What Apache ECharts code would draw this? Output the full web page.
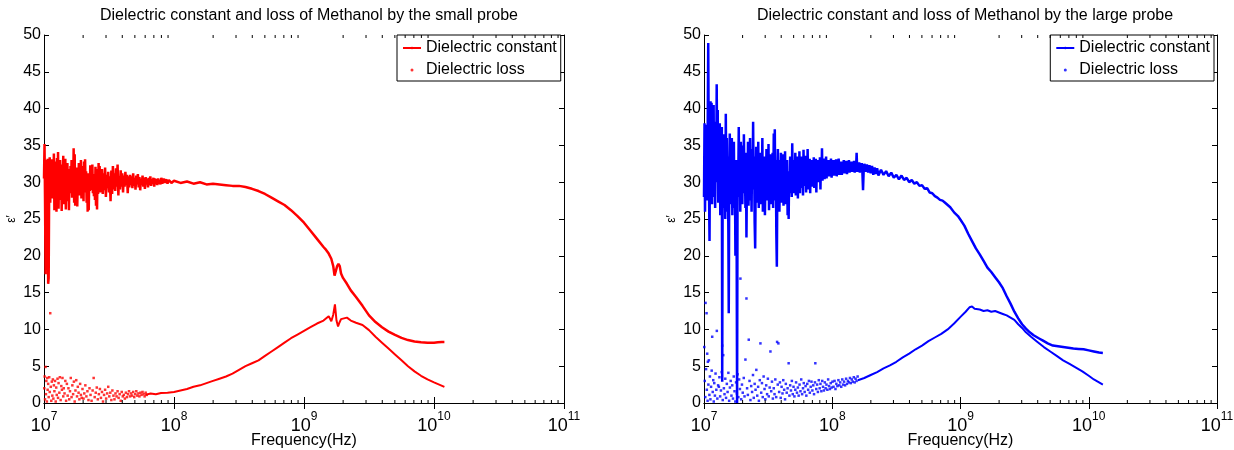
<!DOCTYPE html>
<html><head><meta charset="utf-8">
<script src="https://cdn.jsdelivr.net/npm/echarts@6/dist/echarts.min.js"></script>
<style>html,body{margin:0;padding:0;background:#fff}#c{width:1234px;height:450px}</style>
</head><body><div id="c"></div>
<script>
// x values are log10(frequency / Hz); y values are epsilon
const titles = ['Dielectric constant and loss of Methanol by the small probe',
                'Dielectric constant and loss of Methanol by the large probe'];
const legendNames = ['Dielectric constant', 'Dielectric loss'];
const xName = 'Frequency(Hz)';
const yName = 'ε′';
const yTicks = [0, 5, 10, 15, 20, 25, 30, 35, 40, 45, 50];
const xMajorTicks = [1e7, 1e8, 1e9, 1e10, 1e11];
const xMinorTicks = [2e7,3e7,4e7,5e7,6e7,7e7,8e7,9e7,2e8,3e8,4e8,5e8,6e8,7e8,8e8,9e8,
  2e9,3e9,4e9,5e9,6e9,7e9,8e9,9e9,2e10,3e10,4e10,5e10,6e10,7e10,8e10,9e10];

const smallConstant = [
[7.000,30.5],[7.004,35.2],[7.008,27.5],[7.012,17.5],[7.016,31.5],[7.020,33.0],[7.024,26.8],[7.028,33.2],[7.032,16.2],[7.036,17.0],
[7.040,30.2],[7.044,33.4],[7.048,27.2],[7.052,32.6],[7.056,29.0],[7.060,33.1],[7.064,27.8],[7.068,32.2],[7.072,28.6],[7.076,33.9],
[7.080,26.2],[7.084,31.4],[7.088,27.3],[7.092,32.8],[7.096,26.0],[7.100,33.3],[7.104,28.4],[7.108,34.1],[7.112,26.4],[7.116,31.2],
[7.120,27.6],[7.124,33.0],[7.128,29.1],[7.132,31.8],[7.136,26.1],[7.140,32.4],[7.144,28.2],[7.148,33.6],[7.152,27.0],[7.156,30.8],
[7.160,28.8],[7.164,33.2],[7.168,26.3],[7.172,31.9],[7.176,28.0],[7.180,32.6],[7.184,27.4],[7.188,30.6],[7.192,26.2],[7.196,31.8],
[7.200,28.5],[7.204,32.2],[7.208,29.0],[7.212,33.0],[7.216,27.9],[7.220,32.4],[7.224,28.4],[7.228,34.6],[7.232,27.2],[7.236,33.8],
[7.240,26.8],[7.244,31.0],[7.248,28.6],[7.252,32.0],[7.256,26.7],[7.260,30.8],[7.264,28.9],[7.268,32.6],[7.272,28.2],[7.276,31.4],
[7.280,29.2],[7.284,33.0],[7.288,27.8],[7.292,32.2],[7.296,28.8],[7.300,31.6],[7.304,27.4],[7.308,32.8],[7.312,28.6],[7.316,33.1],
[7.320,29.0],[7.324,31.5],[7.328,27.2],[7.332,30.6],[7.336,26.0],[7.340,31.2],[7.344,26.2],[7.348,30.4],[7.352,28.8],[7.356,32.3],
[7.360,28.9],[7.364,31.0],[7.368,29.4],[7.372,32.4],[7.376,28.5],[7.380,31.1],[7.384,28.1],[7.388,30.9],[7.392,27.6],[7.396,32.1],
[7.400,26.8],[7.404,30.5],[7.408,26.3],[7.412,31.8],[7.416,28.4],[7.420,32.6],[7.424,29.2],[7.428,32.2],[7.432,28.6],[7.436,31.4],
[7.440,29.0],[7.446,31.8],[7.452,28.4],[7.458,31.2],[7.464,28.9],[7.470,32.0],[7.476,28.0],[7.482,31.0],[7.488,29.2],[7.494,31.4],
[7.500,28.6],[7.506,30.8],[7.512,27.4],[7.518,31.6],[7.524,28.4],[7.530,32.2],[7.536,29.0],[7.542,31.2],[7.548,28.8],[7.554,31.9],
[7.560,29.4],[7.566,32.4],[7.572,28.2],[7.578,30.8],[7.584,29.0],[7.590,31.6],[7.596,29.4],[7.602,31.2],[7.608,28.6],[7.614,30.9],
[7.620,29.4],[7.626,31.4],[7.632,29.6],[7.638,31.0],[7.644,28.5],[7.650,30.8],[7.656,29.3],[7.662,31.0],[7.668,29.6],[7.674,30.8],
[7.680,29.2],[7.686,31.2],[7.692,29.5],[7.698,30.6],[7.704,29.0],[7.710,30.9],[7.716,29.7],[7.722,31.1],[7.728,29.3],[7.734,30.7],
[7.740,28.9],[7.746,30.5],[7.752,29.6],[7.758,30.9],[7.764,29.4],[7.770,30.6],[7.776,29.1],[7.782,30.7],[7.788,29.7],[7.794,30.5],
[7.800,29.3],[7.806,30.6],[7.812,29.6],[7.818,30.8],[7.824,29.5],[7.830,30.4],[7.836,29.8],[7.842,30.6],[7.848,29.4],[7.854,30.5],
[7.860,29.7],[7.866,30.4],[7.872,29.6],[7.878,30.5],[7.884,29.8],[7.890,30.3],[7.896,29.7],[7.902,30.6],[7.910,29.8],[7.920,30.5],
[7.930,29.9],[7.940,30.4],[7.950,29.8],[7.960,30.3],[7.980,29.9],[8.000,30.2],[8.050,29.9],[8.100,30.1],[8.150,29.8],[8.200,30.0],
[8.250,29.7],[8.300,29.8],[8.350,29.7],[8.400,29.6],[8.450,29.5],[8.500,29.5],[8.550,29.35],[8.600,29.1],[8.650,28.8],[8.700,28.4],
[8.750,27.9],[8.800,27.4],[8.850,26.9],[8.900,26.2],[8.950,25.4],[9.000,24.5],[9.050,23.4],[9.100,22.3],[9.150,21.2],[9.170,20.8],
[9.190,20.3],[9.210,19.6],[9.225,18.6],[9.235,17.3],[9.245,17.5],[9.255,18.6],[9.265,18.9],[9.275,18.6],[9.285,17.6],[9.300,17.0],
[9.330,16.2],[9.360,15.3],[9.400,14.4],[9.450,13.2],[9.500,11.9],[9.550,11.0],[9.600,10.3],[9.650,9.7],[9.700,9.25],[9.750,8.85],
[9.800,8.55],[9.850,8.35],[9.900,8.25],[9.950,8.2],[10.000,8.2],[10.030,8.25],[10.060,8.3],[10.080,8.3]];

const smallLossScatter = [
[7.002,2.0],[7.005,3.6],[7.008,0.5],[7.012,4.9],[7.015,1.2],[7.018,3.0],[7.022,0.2],[7.025,3.4],[7.028,1.8],[7.032,2.6],
[7.036,0.8],[7.040,3.5],[7.044,1.5],[7.048,12.2],[7.052,2.2],[7.056,0.3],[7.060,2.9],[7.064,1.0],[7.068,3.2],[7.072,0.6],
[7.076,2.4],[7.080,1.6],[7.085,3.0],[7.090,0.2],[7.094,2.1],[7.098,1.1],[7.104,3.3],[7.108,0.7],[7.112,2.7],[7.118,1.4],
[7.122,3.5],[7.128,0.4],[7.133,2.3],[7.138,1.8],[7.142,3.4],[7.148,0.9],[7.152,2.0],[7.158,1.3],[7.164,3.0],[7.170,0.3],
[7.176,2.6],[7.182,1.0],[7.188,2.0],[7.194,0.5],[7.200,1.6],[7.206,3.4],[7.212,0.8],[7.218,2.4],[7.224,1.2],[7.230,2.9],
[7.236,0.2],[7.242,1.7],[7.248,3.1],[7.254,0.9],[7.260,2.2],[7.266,1.4],[7.272,0.5],[7.278,2.6],[7.284,1.1],[7.290,0.7],
[7.296,1.9],[7.304,0.6],[7.310,1.3],[7.318,2.4],[7.326,0.9],[7.334,1.6],[7.342,0.4],[7.350,2.0],[7.358,1.1],[7.366,0.3],
[7.374,1.7],[7.382,3.4],[7.390,0.8],[7.398,1.4],[7.406,2.1],[7.414,0.5],[7.422,1.2],[7.430,1.9],[7.438,0.7],[7.446,1.5],
[7.454,0.2],[7.462,1.1],[7.470,1.8],[7.478,0.6],[7.486,1.3],[7.494,2.2],[7.502,0.9],[7.510,1.4],[7.518,0.4],[7.526,1.7],
[7.534,1.0],[7.542,0.5],[7.550,1.3],[7.558,0.9],[7.566,1.6],[7.574,0.7],[7.582,1.2],[7.590,0.3],[7.598,1.5],[7.606,0.9],
[7.614,1.1],[7.622,0.6],[7.630,1.4],[7.638,0.8],[7.646,1.2],[7.654,1.6],[7.662,0.9],[7.670,1.3],[7.678,1.0],[7.686,1.5],
[7.694,0.8],[7.702,1.2],[7.710,1.6],[7.718,1.0],[7.726,1.3],[7.734,0.9],[7.742,1.4],[7.750,1.1],[7.758,1.5],[7.766,1.2],
[7.774,0.9],[7.782,1.4],[7.790,1.1]];

const smallLossCurve = [
[7.780,1.1],[7.820,1.3],[7.860,1.2],[7.900,1.35],[7.950,1.4],[8.000,1.5],[8.050,1.7],[8.100,1.9],[8.150,2.2],[8.200,2.4],
[8.250,2.7],[8.300,3.0],[8.350,3.3],[8.400,3.6],[8.450,4.0],[8.500,4.5],[8.550,5.0],[8.600,5.4],[8.650,5.8],[8.700,6.4],
[8.750,7.0],[8.800,7.6],[8.850,8.2],[8.900,8.8],[8.950,9.3],[9.000,9.8],[9.050,10.3],[9.100,10.8],[9.150,11.2],[9.190,11.8],
[9.210,11.1],[9.225,12.0],[9.238,13.4],[9.250,11.2],[9.262,10.4],[9.272,10.9],[9.285,11.4],[9.300,11.6],[9.330,11.6],[9.360,11.2],
[9.400,10.9],[9.450,10.6],[9.500,9.9],[9.550,9.0],[9.600,8.2],[9.650,7.4],[9.700,6.6],[9.750,5.8],[9.800,5.0],[9.850,4.3],
[9.900,3.7],[9.950,3.2],[10.000,2.8],[10.040,2.5],[10.080,2.2]];

const largeConstant = [
[7.000,28.0],[7.004,38.0],[7.008,26.0],[7.012,36.5],[7.016,30.0],[7.020,37.8],[7.024,27.5],[7.028,35.0],[7.033,48.9],[7.038,31.0],
[7.043,22.0],[7.047,36.0],[7.051,41.0],[7.055,30.5],[7.059,40.8],[7.063,27.0],[7.067,39.5],[7.071,33.0],[7.075,40.5],[7.079,28.0],
[7.083,38.2],[7.087,26.5],[7.091,37.0],[7.095,30.0],[7.099,43.3],[7.103,32.0],[7.107,39.8],[7.111,27.2],[7.115,36.5],[7.119,29.0],
[7.123,38.0],[7.127,25.5],[7.131,35.2],[7.135,28.5],[7.139,37.5],[7.142,2.9],[7.146,34.0],[7.150,26.5],[7.154,36.5],[7.158,29.5],
[7.162,34.8],[7.166,25.0],[7.170,39.3],[7.174,28.0],[7.178,36.0],[7.182,26.0],[7.186,33.5],[7.190,23.0],[7.193,12.2],[7.197,30.5],
[7.201,36.6],[7.205,27.0],[7.209,34.5],[7.213,29.0],[7.217,36.0],[7.221,25.5],[7.225,33.0],[7.229,28.0],[7.233,35.5],[7.237,26.5],
[7.241,31.5],[7.245,20.0],[7.250,33.0],[7.254,26.0],[7.258,0.0],[7.262,32.0],[7.266,28.0],[7.271,37.5],[7.275,29.0],[7.279,34.0],
[7.283,26.0],[7.287,35.5],[7.291,30.0],[7.295,33.5],[7.299,27.0],[7.303,35.0],[7.307,28.5],[7.311,36.5],[7.315,30.5],[7.319,33.0],
[7.323,26.5],[7.327,34.0],[7.331,22.5],[7.335,31.0],[7.339,28.0],[7.343,35.5],[7.347,26.8],[7.351,33.2],[7.355,29.5],[7.359,36.0],
[7.363,27.5],[7.367,32.0],[7.371,26.0],[7.375,34.5],[7.379,30.0],[7.383,38.2],[7.387,29.0],[7.391,33.5],[7.395,24.5],[7.399,21.0],
[7.403,30.0],[7.407,34.8],[7.411,27.2],[7.415,32.5],[7.419,29.0],[7.423,35.5],[7.427,26.5],[7.431,31.5],[7.435,28.5],[7.439,34.0],
[7.443,27.0],[7.447,32.5],[7.451,29.5],[7.455,36.0],[7.459,26.0],[7.463,31.8],[7.467,28.2],[7.471,33.5],[7.475,25.5],[7.479,30.5],
[7.483,29.0],[7.487,34.5],[7.491,27.5],[7.495,32.0],[7.499,28.8],[7.503,35.2],[7.507,26.2],[7.511,31.0],[7.515,29.8],[7.519,33.8],
[7.523,27.0],[7.527,32.5],[7.531,28.0],[7.535,34.0],[7.539,26.5],[7.544,36.6],[7.548,29.0],[7.552,37.2],[7.556,27.5],[7.560,33.0],
[7.564,23.0],[7.568,18.5],[7.572,30.5],[7.576,34.5],[7.580,28.5],[7.584,33.0],[7.588,26.0],[7.592,31.5],[7.596,29.0],[7.600,34.0],
[7.604,27.2],[7.608,32.2],[7.612,28.5],[7.616,33.8],[7.620,26.8],[7.624,31.5],[7.628,29.5],[7.632,34.2],[7.636,27.0],[7.640,31.0],
[7.644,28.8],[7.648,33.0],[7.652,25.5],[7.656,30.5],[7.660,25.0],[7.664,31.5],[7.668,28.5],[7.672,33.5],[7.676,29.0],[7.680,32.0],
[7.684,28.0],[7.688,35.3],[7.692,29.5],[7.696,32.5],[7.700,28.5],[7.704,33.0],[7.708,30.0],[7.712,34.0],[7.716,28.2],[7.720,32.0],
[7.724,29.5],[7.728,33.5],[7.732,27.8],[7.736,31.5],[7.740,29.0],[7.744,34.2],[7.748,28.5],[7.752,32.5],[7.756,30.0],[7.760,33.5],
[7.764,29.2],[7.768,31.8],[7.772,28.2],[7.776,34.4],[7.780,29.5],[7.784,32.2],[7.788,30.2],[7.792,33.6],[7.796,28.6],[7.800,32.0],
[7.804,29.8],[7.808,34.5],[7.812,29.0],[7.816,31.8],[7.820,30.4],[7.824,33.2],[7.828,28.5],[7.832,32.4],[7.836,30.5],[7.840,33.0],
[7.844,29.4],[7.848,32.6],[7.852,30.8],[7.856,33.4],[7.860,29.2],[7.864,32.0],[7.868,30.6],[7.872,33.2],[7.876,28.6],[7.880,32.2],
[7.884,30.8],[7.888,33.0],[7.892,30.0],[7.896,32.5],[7.900,30.6],[7.904,33.4],[7.908,29.0],[7.912,32.8],[7.916,30.8],[7.920,34.6],
[7.924,30.2],[7.928,32.6],[7.932,31.0],[7.936,33.2],[7.940,30.4],[7.944,32.8],[7.948,31.0],[7.952,33.5],[7.956,30.5],[7.960,32.6],
[7.965,31.2],[7.970,33.0],[7.975,30.8],[7.980,32.4],[7.985,31.0],[7.990,33.2],[7.995,30.6],[8.000,32.8],[8.005,31.2],[8.010,33.0],
[8.015,30.9],[8.020,32.6],[8.025,31.3],[8.030,33.1],[8.035,30.8],[8.040,32.4],[8.045,31.4],[8.050,33.2],[8.055,31.0],[8.060,32.5],
[8.065,31.2],[8.070,32.8],[8.075,31.0],[8.080,32.6],[8.085,31.4],[8.090,33.0],[8.095,31.2],[8.100,32.4],[8.105,31.5],[8.110,32.9],
[8.115,31.1],[8.120,32.6],[8.125,31.6],[8.130,33.0],[8.135,31.3],[8.140,32.5],[8.145,31.5],[8.150,32.8],[8.155,31.4],[8.160,32.6],
[8.165,31.6],[8.170,32.9],[8.175,31.3],[8.180,32.4],[8.185,31.5],[8.190,34.0],[8.195,31.4],[8.200,32.5],[8.205,31.6],[8.210,32.7],
[8.215,31.3],[8.220,32.4],[8.225,31.5],[8.230,32.6],[8.235,31.4],[8.240,28.9],[8.245,31.6],[8.250,32.5],[8.260,31.4],[8.270,32.4],
[8.280,31.3],[8.290,32.3],[8.300,31.2],[8.310,32.2],[8.320,31.0],[8.330,32.0],[8.340,31.1],[8.350,31.9],[8.360,30.9],[8.380,31.7],
[8.400,31.0],[8.420,31.5],[8.440,30.8],[8.460,31.3],[8.480,30.6],[8.500,31.0],[8.520,30.4],[8.540,30.9],[8.560,30.3],[8.580,30.6],
[8.600,30.0],[8.620,30.3],[8.640,29.8],[8.660,30.0],[8.680,29.5],[8.700,29.6],[8.720,29.1],[8.740,29.2],[8.760,28.6],[8.780,28.5],
[8.800,28.1],[8.820,27.9],[8.840,27.6],[8.860,27.5],[8.880,27.2],[8.900,26.9],[8.920,26.6],[8.950,25.9],[8.980,25.4],[9.000,24.9],
[9.030,24.1],[9.060,23.0],[9.090,22.0],[9.120,21.0],[9.150,20.2],[9.180,19.3],[9.210,18.4],[9.240,17.8],[9.270,17.1],[9.300,16.4],
[9.330,15.6],[9.360,14.5],[9.390,13.5],[9.420,12.4],[9.450,11.5],[9.480,10.7],[9.510,10.1],[9.540,9.6],[9.570,9.2],[9.600,8.9],
[9.620,8.7],[9.640,8.5],[9.680,8.1],[9.720,7.8],[9.760,7.7],[9.800,7.6],[9.840,7.5],[9.880,7.4],[9.920,7.35],[9.960,7.3],
[10.000,7.15],[10.040,7.0],[10.080,6.85],[10.110,6.8]];

const largeLossScatter = [
[7.002,7.6],[7.006,3.0],[7.010,0.8],[7.012,13.6],[7.016,4.6],[7.020,12.2],[7.022,1.8],[7.025,6.7],[7.028,0.3],[7.030,5.6],
[7.034,2.5],[7.038,5.8],[7.042,1.1],[7.046,3.6],[7.050,0.5],[7.055,2.2],[7.060,4.4],[7.064,9.0],[7.068,1.5],[7.072,3.1],
[7.076,0.2],[7.080,2.7],[7.085,1.0],[7.090,4.0],[7.096,1.8],[7.100,9.8],[7.104,0.6],[7.110,2.4],[7.116,2.2],[7.120,3.5],
[7.126,0.9],[7.132,1.7],[7.138,4.2],[7.142,7.8],[7.146,0.4],[7.150,6.5],[7.155,2.0],[7.160,1.2],[7.166,3.3],[7.172,0.7],
[7.178,2.6],[7.184,1.5],[7.190,4.1],[7.196,0.3],[7.202,2.1],[7.208,3.0],[7.214,1.0],[7.220,2.4],[7.226,0.6],[7.232,3.6],
[7.238,1.6],[7.244,0.2],[7.250,2.8],[7.256,1.3],[7.262,3.9],[7.268,0.8],[7.274,3.2],[7.280,1.9],[7.284,16.9],[7.290,0.5],
[7.296,2.5],[7.302,1.4],[7.310,3.4],[7.316,0.9],[7.323,5.9],[7.331,14.2],[7.336,2.0],[7.342,1.1],[7.349,8.6],[7.355,3.0],
[7.362,0.4],[7.368,2.3],[7.375,1.5],[7.382,3.8],[7.388,0.7],[7.395,2.6],[7.402,1.8],[7.408,4.5],[7.415,1.0],[7.422,2.2],
[7.428,0.3],[7.435,3.1],[7.440,8.1],[7.446,1.4],[7.452,2.7],[7.458,0.8],[7.465,3.6],[7.472,1.9],[7.478,0.5],[7.485,2.4],
[7.492,1.2],[7.498,3.3],[7.505,0.9],[7.512,2.1],[7.518,7.0],[7.524,1.6],[7.530,2.9],[7.537,0.6],[7.544,2.0],[7.550,1.2],
[7.556,3.2],[7.563,0.8],[7.570,8.3],[7.575,2.5],[7.580,8.1],[7.586,1.5],[7.592,2.8],[7.598,0.7],[7.605,2.2],[7.612,1.3],
[7.618,3.1],[7.625,1.8],[7.632,0.5],[7.638,2.6],[7.645,1.4],[7.652,2.0],[7.660,5.4],[7.666,1.0],[7.672,2.4],[7.678,1.7],
[7.685,3.0],[7.692,1.2],[7.698,2.2],[7.705,0.9],[7.712,1.8],[7.718,2.8],[7.725,1.4],[7.732,2.1],[7.738,1.0],[7.745,2.5],
[7.752,1.6],[7.758,3.2],[7.765,1.2],[7.772,2.0],[7.778,2.7],[7.785,1.5],[7.792,2.3],[7.798,1.0],[7.805,2.6],[7.812,1.8],
[7.818,3.0],[7.825,1.4],[7.832,2.2],[7.838,2.9],[7.845,1.7],[7.852,2.4],[7.858,1.2],[7.865,2.8],[7.868,5.4],[7.875,1.9],
[7.882,2.5],[7.888,1.5],[7.895,3.1],[7.902,2.0],[7.908,2.6],[7.915,1.6],[7.922,3.0],[7.928,2.2],[7.935,1.7],[7.942,2.8],
[7.948,2.0],[7.955,2.5],[7.962,1.8],[7.968,3.2],[7.975,2.3],[7.982,1.9],[7.988,2.7],[7.995,2.1],[8.002,2.9],[8.010,2.2],
[8.018,3.0],[8.025,1.9],[8.032,2.6],[8.040,2.3],[8.048,3.1],[8.055,2.4],[8.062,2.8],[8.070,2.2],[8.078,3.2],[8.085,2.5],
[8.092,2.9],[8.100,2.4],[8.108,3.3],[8.115,2.6],[8.122,3.0],[8.130,2.8],[8.138,3.4],[8.145,2.7],[8.152,3.2],[8.160,2.9],
[8.168,3.5],[8.175,2.8],[8.182,3.3],[8.190,3.0],[8.198,3.6]];

const largeLossCurve = [
[8.200,3.1],[8.250,3.4],[8.300,3.8],[8.350,4.2],[8.400,4.7],[8.450,5.1],[8.500,5.6],[8.550,6.2],[8.600,6.7],[8.650,7.3],
[8.700,7.8],[8.750,8.4],[8.800,8.9],[8.850,9.4],[8.900,10.0],[8.950,10.8],[9.000,11.7],[9.040,12.4],[9.070,13.0],[9.090,13.1],
[9.110,12.8],[9.150,12.7],[9.180,12.5],[9.210,12.6],[9.240,12.4],[9.270,12.5],[9.300,12.3],[9.330,12.1],[9.360,11.9],[9.390,11.6],
[9.420,11.3],[9.450,10.7],[9.480,10.2],[9.510,9.6],[9.550,9.0],[9.600,8.3],[9.650,7.6],[9.700,7.0],[9.750,6.4],[9.800,5.8],
[9.850,5.3],[9.900,4.8],[9.950,4.3],[10.000,3.7],[10.040,3.2],[10.080,2.8],[10.110,2.5]];

const RED = '#ff0000', BLUE = '#0000ff';
const FONT = 'Liberation Sans, Arial, Helvetica, sans-serif';
const toHz = arr => arr.map(p => [Math.pow(10, p[0]), p[1]]);

const charts = [
  {title: titles[0], color: RED, tag: ' (small probe)', constant: smallConstant, lossScatter: smallLossScatter, lossCurve: smallLossCurve,
   grid: {left: 44, right: 670, top: 35, bottom: 47}, center: 304, legend: {left: 397}},
  {title: titles[1], color: BLUE, tag: ' (large probe)', constant: largeConstant, lossScatter: largeLossScatter, lossCurve: largeLossCurve,
   grid: {left: 704, right: 17, top: 35, bottom: 47}, center: 960, legend: {right: 20}}
];

const option = {animation: false, backgroundColor: '#fff', title: [], grid: [], xAxis: [], yAxis: [], legend: [], series: []};
charts.forEach((c, i) => {
  option.title.push({text: c.title, left: c.center, textAlign: 'center', top: 3,
    textStyle: {fontSize: 16, fontWeight: 'normal', color: '#000', fontFamily: FONT}});
  option.grid.push(Object.assign({containLabel: false, outerBoundsMode: 'none'}, c.grid));
  const axLine = {show: true, lineStyle: {color: '#000', width: 1}};
  option.xAxis.push({type: 'log', logBase: 10, gridIndex: i, min: xMajorTicks[0], max: xMajorTicks[xMajorTicks.length - 1],
    position: 'bottom', axisLine: axLine, splitLine: {show: false},
    axisTick: {inside: true, length: 6, lineStyle: {color: '#000'}},
    axisLabel: {color: '#000', margin: 8,
      formatter: v => '{b|10}{s|' + Math.round(Math.log10(v)) + '}',
      rich: {b: {fontSize: 18, fontFamily: FONT, color: '#000', verticalAlign: 'bottom', lineHeight: 24},
             s: {fontSize: 12, fontFamily: FONT, color: '#000', verticalAlign: 'top', lineHeight: 12}}},
    name: xName, nameLocation: 'middle', nameGap: 30, nameMoveOverlap: false,
    nameTextStyle: {fontSize: 16, color: '#000', fontFamily: FONT}});
  option.xAxis.push({type: 'log', logBase: 10, gridIndex: i, min: xMajorTicks[0], max: xMajorTicks[xMajorTicks.length - 1],
    position: 'top', axisLine: axLine, splitLine: {show: false}, axisLabel: {show: false},
    axisTick: {inside: true, length: 6, lineStyle: {color: '#000'}}});
  option.yAxis.push({type: 'value', gridIndex: i, min: yTicks[0], max: yTicks[yTicks.length - 1], interval: 5,
    axisLine: axLine, splitLine: {show: false},
    axisTick: {inside: true, length: 5, lineStyle: {color: '#000'}},
    axisLabel: {color: '#000', fontSize: 16, fontFamily: FONT, margin: 3},
    name: yName, nameLocation: 'middle', nameRotate: 90, nameGap: 26,
    nameTextStyle: {fontSize: 12, color: '#000', fontFamily: FONT}});
  option.yAxis.push({type: 'value', gridIndex: i, min: yTicks[0], max: yTicks[yTicks.length - 1], interval: 5,
    position: 'right', axisLine: axLine, splitLine: {show: false}, axisLabel: {show: false},
    axisTick: {inside: true, length: 5, lineStyle: {color: '#000'}}});
  option.legend.push(Object.assign({top: 35, orient: 'vertical', selectedMode: false,
    data: [{name: legendNames[0] + c.tag}, {name: legendNames[1] + c.tag, icon: 'circle'}],
    formatter: n => n.replace(c.tag, ''),
    backgroundColor: '#fff', borderColor: '#000', borderWidth: 1, borderRadius: 0,
    padding: [5, 4, 3, 5], itemGap: 6, itemWidth: 18, itemHeight: 3,
    textStyle: {fontSize: 16, color: '#000', fontFamily: FONT}}, c.legend));
  const xi = i * 2, yi = i * 2;
  option.series.push({type: 'scatter', name: legendNames[1] + c.tag, xAxisIndex: xi, yAxisIndex: yi,
    data: toHz(c.lossScatter), symbol: 'rect', symbolSize: 2.5, itemStyle: {color: c.color}, z: 3});
  option.series.push({type: 'line', name: legendNames[1] + ' curve' + c.tag, xAxisIndex: xi, yAxisIndex: yi,
    data: toHz(c.lossCurve), symbol: 'none', lineStyle: {color: c.color, width: 2, type: 'solid'},
    itemStyle: {color: c.color}, z: 3});
  option.series.push({type: 'line', name: legendNames[0] + c.tag, xAxisIndex: xi, yAxisIndex: yi,
    data: toHz(c.constant), symbol: 'none', lineStyle: {color: c.color, width: 2.5},
    itemStyle: {color: c.color}, z: 2});
  option.series.push({type: 'custom', xAxisIndex: xi, yAxisIndex: yi, silent: true, clip: false, z: 5,
    data: xMinorTicks.map(f => [f, yTicks[0]]), encode: {x: 0, y: 1},
    renderItem: (params, api) => {
      const b = api.coord([api.value(0), yTicks[0]]);
      const t = api.coord([api.value(0), yTicks[yTicks.length - 1]]);
      return {type: 'group', children: [
        {type: 'line', shape: {x1: b[0], y1: b[1], x2: b[0], y2: b[1] - 3}, style: {stroke: '#000', lineWidth: 1}},
        {type: 'line', shape: {x1: t[0], y1: t[1], x2: t[0], y2: t[1] + 3}, style: {stroke: '#000', lineWidth: 1}}]};
    }});
});
const chart = echarts.init(document.getElementById('c'), null, {renderer: 'canvas'});
chart.setOption(option);
</script></body></html>
